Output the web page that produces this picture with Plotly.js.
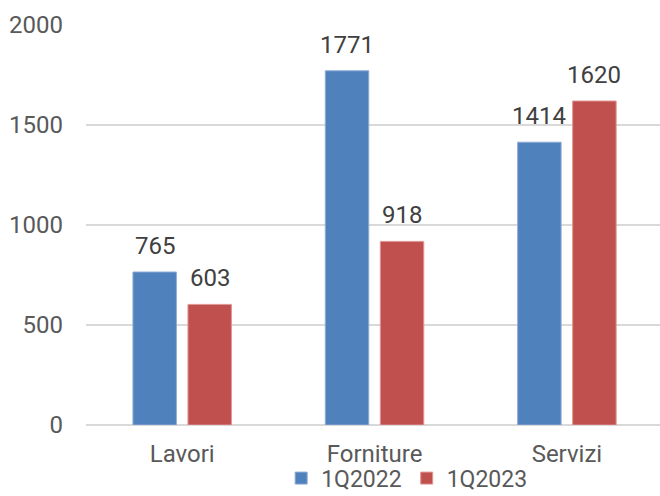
<!DOCTYPE html>
<html>
<head>
<meta charset="utf-8">
<script src="https://cdn.plot.ly/plotly-3.0.1.min.js"></script>
<style>html,body{margin:0;padding:0;background:#fff;}#chart{width:660px;height:496px;}</style>
</head>
<body>
<div id="chart"></div>
<script>
const categories = ["Lavori", "Forniture", "Servizi"];
const seriesNames = ["1Q2022", "1Q2023"];
const values2022 = [765, 1771, 1414];
const values2023 = [603, 918, 1620];
const yTicks = [0, 500, 1000, 1500, 2000];

const colors = ["#4f81bd", "#c0504d"];
const edge = ["#8eaad6", "#e09694"];
const fontFam = "Roboto, 'Noto Sans', sans-serif";
const series = [values2022, values2023];

const traces = series.map((vals, i) => ({
  type: "bar",
  name: seriesNames[i],
  x: categories,
  y: vals,
  marker: {color: colors[i], line: {color: edge[i], width: 1}},
  hoverinfo: "skip"
}));

const shifts = [-27.5, 27.5];
const annotations = [];
series.forEach((vals, i) => {
  vals.forEach((v, j) => {
    annotations.push({
      x: categories[j], y: v, xref: "x", yref: "y",
      text: String(v), showarrow: false,
      xanchor: "center", yanchor: "middle",
      xshift: shifts[i], yshift: 26,
      font: {family: fontFam, size: 24, color: "#404040"}
    });
  });
});

const layout = {
  width: 660, height: 496,
  margin: {l: 86, r: 0, t: 25, b: 71, pad: 0},
  paper_bgcolor: "#fff", plot_bgcolor: "#fff",
  font: {family: fontFam, size: 24, color: "#595959"},
  barmode: "group",
  bargap: 0.428,
  bargroupgap: 0.21,
  showlegend: true,
  annotations: annotations,
  legend: {
    orientation: "h",
    x: 0.34, xanchor: "left",
    xref: "paper",
    yref: "container",
    y: 0.036, yanchor: "middle",
    bgcolor: "rgba(0,0,0,0)",
    font: {family: fontFam, size: 23, color: "#595959"},
    itemclick: false, itemdoubleclick: false,
    tracegroupgap: 0
  },
  xaxis: {
    type: "category",
    range: [-0.5, 2.484],
    showgrid: false,
    showline: false,
    zeroline: false,
    ticks: "",
    ticklabelstandoff: 12,
    tickfont: {family: fontFam, size: 24, color: "#595959"},
    fixedrange: true
  },
  yaxis: {
    range: [0, 2000],
    tickvals: yTicks,
    ticktext: yTicks.map(String),
    showgrid: true,
    gridcolor: "#d9d9d9",
    gridwidth: 1.3,
    zeroline: true,
    zerolinecolor: "#d9d9d9",
    zerolinewidth: 1.3,
    showline: false,
    ticks: "",
    ticklabelstandoff: 22,
    tickfont: {family: fontFam, size: 24, color: "#595959"},
    fixedrange: true
  }
};

Plotly.newPlot("chart", traces, layout, {displayModeBar: false, staticPlot: true});
</script>
</body>
</html>
